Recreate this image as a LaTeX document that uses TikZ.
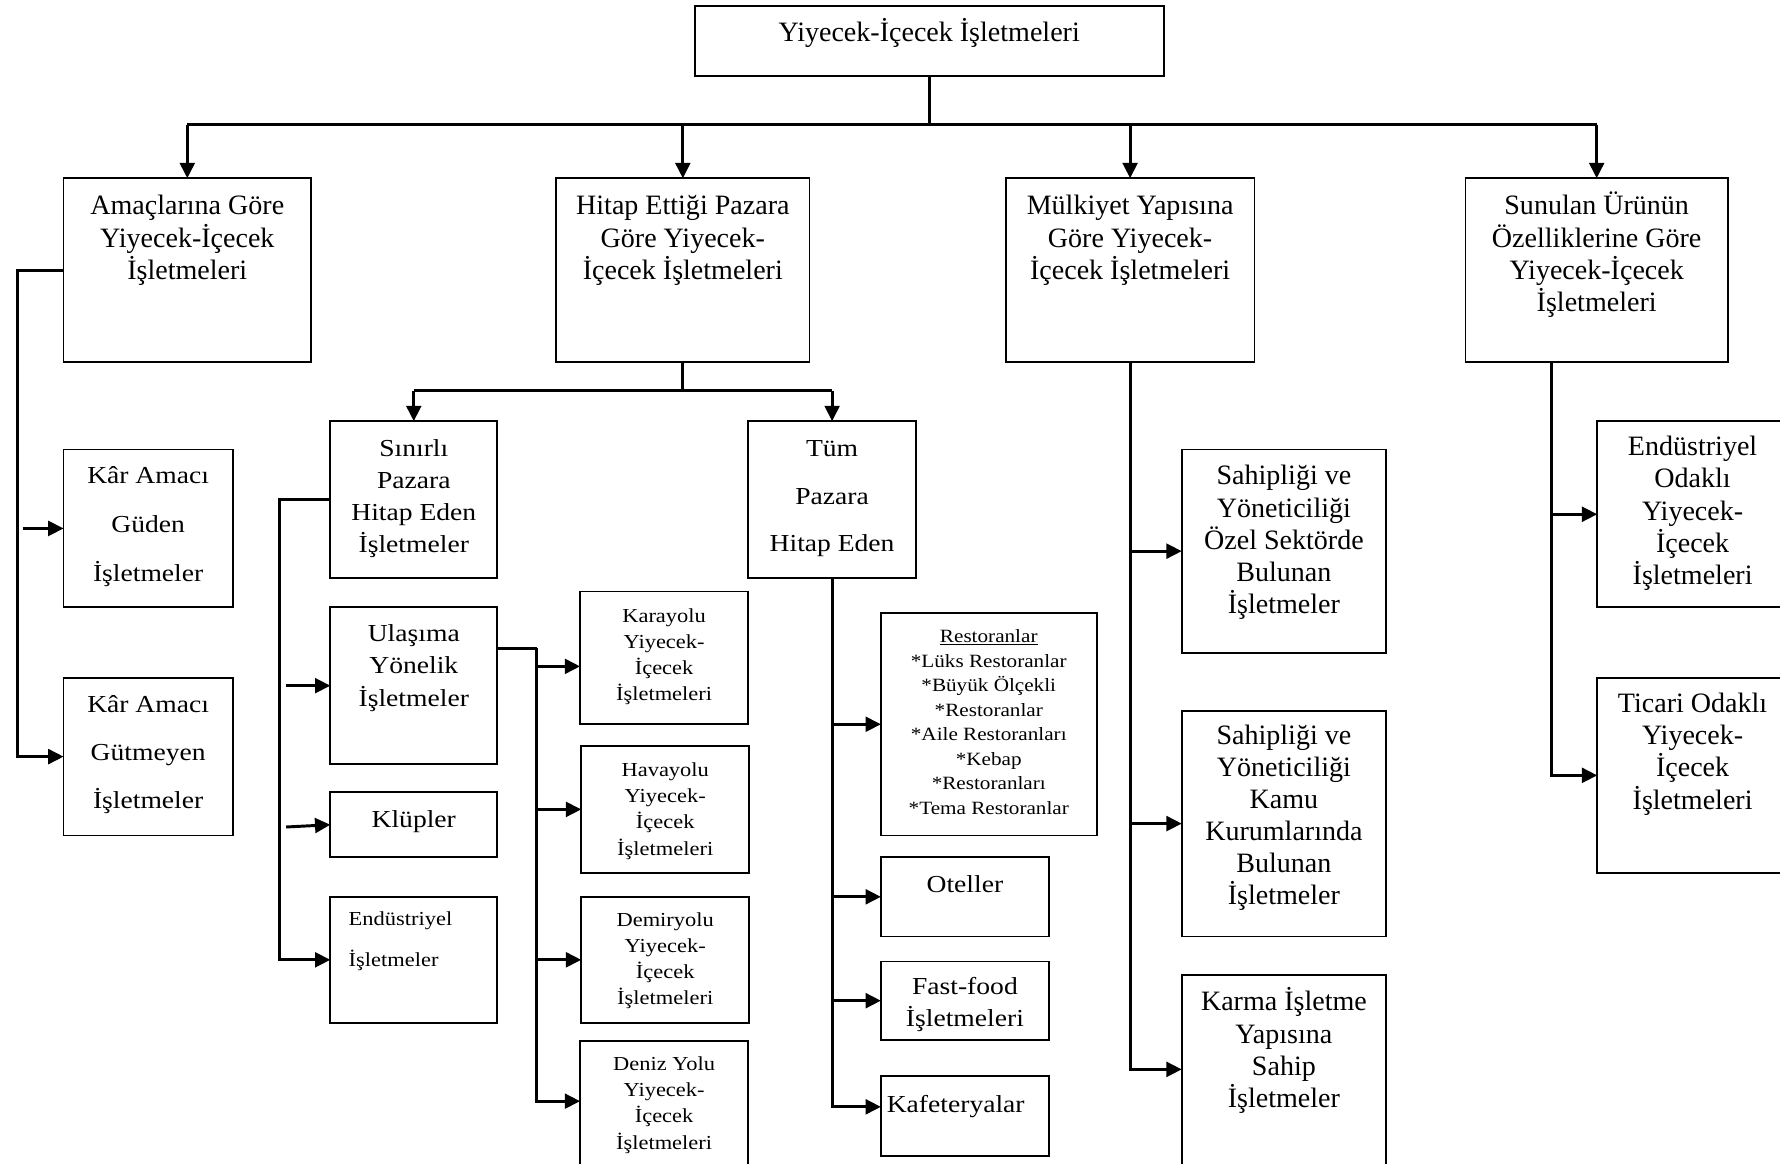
\documentclass[tikz,border=0pt]{standalone}
\usepackage{fontspec}
\setmainfont{Liberation Serif}
\newfontfamily\centf[FakeStretch=1.13]{Liberation Serif}
\usetikzlibrary{arrows.meta}
\newcommand\bx[5]{\node[boxst, minimum width={(#4-#2)*1pt}, minimum height={(#5-#3)*1pt}] (#1) at ({(#2+#4)/2},{(#3+#5)/2}) {};}
\newcommand\tx[6]{\node[txtst, font=#5] (#1) at (#2.center |- 0,{#3-#4}) {\rule{0pt}{#4pt}#6};}
\newcommand\fT[1]{\fontsize{24.7}{#1}\selectfont}
\newcommand\fC[1]{\centf\fontsize{21.5}{#1}\selectfont}
\newcommand\fS[2]{\centf\fontsize{#1}{#2}\selectfont}
\begin{document}
\begin{tikzpicture}[x=1pt,y=-1pt,
  boxst/.style={draw, line width=1.6pt, inner sep=0pt, outer sep=0pt},
  txtst/.style={inner sep=0pt, anchor=north, align=center},
  conn/.style={line width=2.6pt},
  arr/.style={conn, -{Triangle[length=13.5pt,width=13pt]}}]
\useasboundingbox (0,0) rectangle (1568,1025);
\fill[white] (0,0) rectangle (1568,1025);
\clip (0,0) rectangle (1568,1025);
% boxes
\bx{top}{612}{5}{1025}{67}
\bx{A}{56}{157}{274}{319}
\bx{B}{490}{157}{713}{319}
\bx{C}{886}{157}{1105}{319}
\bx{D}{1291}{157}{1522}{319}
\bx{gud}{56}{396}{205}{535}
\bx{gut}{56}{597}{205}{736}
\bx{sin}{291}{371}{438}{509}
\bx{tum}{659}{371}{807}{509}
\bx{ula}{291}{535}{438}{673}
\bx{kl}{291}{698}{438}{755}
\bx{endu}{291}{790}{438}{901}
\bx{kar}{511}{521}{659}{638}
\bx{hav}{512}{657}{660}{769}
\bx{dem}{512}{790}{660}{901}
\bx{den}{511}{917}{659}{1045}
\bx{res}{776}{540}{966}{736}
\bx{ote}{776}{755}{924}{825}
\bx{fast}{776}{847}{924}{916}
\bx{kaf}{776}{948}{924}{1018}
\bx{oz}{1041}{396}{1221}{575}
\bx{kamu}{1041}{626}{1221}{825}
\bx{karma}{1041}{859}{1221}{1060}
\bx{eo}{1407}{371}{1575}{535}
\bx{tic}{1407}{597}{1575}{769}
% texts
\tx{topT}{top}{36}{23}{\fT{28.5}}{Yiyecek-İçecek İşletmeleri}
\tx{AT}{A}{189}{23}{\fT{28.5}}{Amaçlarına Göre\\Yiyecek-İçecek\\İşletmeleri}
\tx{BT}{B}{189}{23}{\fT{28.5}}{Hitap Ettiği Pazara\\Göre Yiyecek-\\İçecek İşletmeleri}
\tx{CT}{C}{189}{23}{\fT{28.5}}{Mülkiyet Yapısına\\Göre Yiyecek-\\İçecek İşletmeleri}
\tx{DT}{D}{189}{23}{\fT{28.5}}{Sunulan Ürünün\\Özelliklerine Göre\\Yiyecek-İçecek\\İşletmeleri}
\tx{gudT}{gud}{426}{21}{\fC{43}}{Kâr Amacı\\Güden\\İşletmeler}
\tx{gutT}{gut}{627}{21}{\fC{42.5}}{Kâr Amacı\\Gütmeyen\\İşletmeler}
\tx{sinT}{sin}{402}{21}{\fC{28.3}}{Sınırlı\\Pazara\\Hitap Eden\\İşletmeler}
\tx{tumT}{tum}{402}{21}{\fC{42}}{Tüm\\Pazara\\Hitap Eden}
\tx{ulaT}{ula}{565}{21}{\fC{28.5}}{Ulaşıma\\Yönelik\\İşletmeler}
\tx{klT}{kl}{729}{21}{\fC{28.5}}{Klüpler}
\node[inner sep=0pt, anchor=north west, align=left, font=\fS{17.5}{36}] (enduT) at (endu.west |- 0,{815-17}) [xshift=16pt] {\rule{0pt}{17pt}Endüstriyel\\İşletmeler};
\tx{karT}{kar}{548}{17}{\fS{17.5}{23}}{Karayolu\\Yiyecek-\\İçecek\\İşletmeleri}
\tx{havT}{hav}{684}{17}{\fS{17.5}{23}}{Havayolu\\Yiyecek-\\İçecek\\İşletmeleri}
\tx{demT}{dem}{816}{17}{\fS{17.5}{23}}{Demiryolu\\Yiyecek-\\İçecek\\İşletmeleri}
\tx{denT}{den}{943}{17}{\fS{17.5}{23}}{Deniz Yolu\\Yiyecek-\\İçecek\\İşletmeleri}
\tx{resT}{res}{566}{16}{\fS{16.5}{21.6}}{\underline{Restoranlar}\\*Lüks Restoranlar\\*Büyük Ölçekli\\*Restoranlar\\*Aile Restoranları\\*Kebap\\*Restoranları\\*Tema Restoranlar}
\tx{oteT}{ote}{786}{21}{\fC{28.5}}{Oteller}
\tx{fastT}{fast}{876}{21}{\fC{28}}{Fast-food\\İşletmeleri}
\node[inner sep=0pt, anchor=north west, font=\fC{28}] (kafT) at (kaf.west |- 0,{980-21}) [xshift=5pt] {\rule{0pt}{21pt}Kafeteryalar};
\tx{ozT}{oz}{427}{23}{\fT{28.3}}{Sahipliği ve\\Yöneticiliği\\Özel Sektörde\\Bulunan\\İşletmeler}
\tx{kamuT}{kamu}{656}{23}{\fT{28.2}}{Sahipliği ve\\Yöneticiliği\\Kamu\\Kurumlarında\\Bulunan\\İşletmeler}
\tx{karmaT}{karma}{890}{23}{\fT{28.6}}{Karma İşletme\\Yapısına\\Sahip\\İşletmeler}
\tx{eoT}{eo}{401}{23}{\fT{28.5}}{Endüstriyel\\Odaklı\\Yiyecek-\\İçecek\\İşletmeleri}
\tx{ticT}{tic}{627}{23}{\fT{28.5}}{Ticari Odaklı\\Yiyecek-\\İçecek\\İşletmeleri}
% connectors: level 1
\coordinate (hub) at (819,110);
\draw[conn] (top.south) -- (top.south |- hub);
\draw[conn] (A.north |- hub) -- (D.north |- hub);
\foreach \n in {A,B,C,D} \draw[arr] (\n.north |- hub) -- (\n.north);
% A branch
\coordinate (aL) at (15,238);
\draw[arr] (A.west) -- (A.west -| aL) |- (gut.west);
\coordinate (gs) at (20,465.5);
\draw[arr] (gs) -- (gud.west);
% B branch
\coordinate (bh) at (601,344);
\draw[conn] (B.south) -- (B.south |- bh);
\draw[conn] (sin.north |- bh) -- (tum.north |- bh);
\draw[arr] (sin.north |- bh) -- (sin.north);
\draw[arr] (tum.north |- bh) -- (tum.north);
% Sinirli branch
\coordinate (sL) at (246,440);
\draw[arr] (sin.west) -- (sin.west -| sL) |- (endu.west);
\coordinate (s1) at (252,604);
\draw[arr] (s1) -- (ula.west);
\coordinate (s2) at (252,728.5);
\draw[arr] (s2) -- (kl.west);
% Ulasima branch
\coordinate (uR) at (473,571);
\coordinate (karA) at ([yshift=-7.5pt]kar.west);
\coordinate (denA) at ([yshift=11pt]den.west);
\draw[conn] (ula.east |- uR) -- (uR);
\draw[arr] (uR) |- (denA);
\draw[arr] (uR |- karA) -- (karA);
\draw[arr] (uR |- hav.west) -- (hav.west);
\draw[arr] (uR |- dem.west) -- (dem.west);
% Tum branch
\coordinate (kafA) at ([yshift=8pt]kaf.west);
\draw[arr] (tum.south) |- (kafA);
\draw[arr] (tum.south |- res.west) -- (res.west);
\draw[arr] (tum.south |- ote.west) -- (ote.west);
\draw[arr] (tum.south |- fast.west) -- (fast.west);
% C branch
\coordinate (karmaA) at ([yshift=17.5pt]karma.west);
\draw[arr] (C.south) |- (karmaA);
\draw[arr] (C.south |- oz.west) -- (oz.west);
\draw[arr] (C.south |- kamu.west) -- (kamu.west);
% D branch
\coordinate (dT) at ([xshift=-39.5pt]D.south);
\draw[arr] (dT) |- (tic.west);
\draw[arr] (dT |- eo.west) -- (eo.west);
\end{tikzpicture}
\end{document}
